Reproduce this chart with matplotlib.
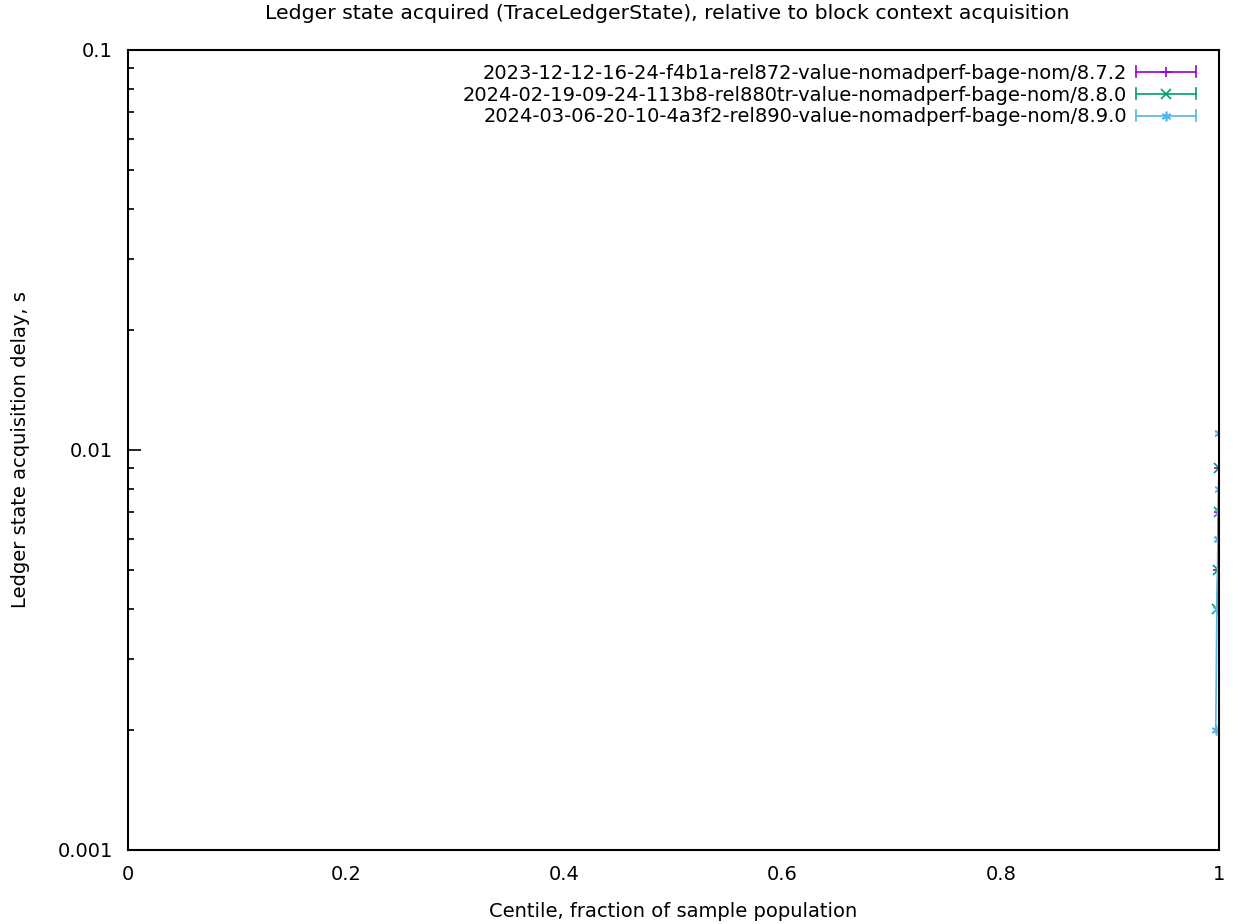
import matplotlib
matplotlib.use("Agg")
import matplotlib.pyplot as plt
from matplotlib.legend_handler import HandlerBase
from matplotlib.lines import Line2D
from matplotlib.ticker import FixedLocator, LogLocator, NullFormatter

# centile -> delay (s); zero-valued centiles are not drawable on a log axis
labels = [
    "2023-12-12-16-24-f4b1a-rel872-value-nomadperf-bage-nom/8.7.2",
    "2024-02-19-09-24-113b8-rel880tr-value-nomadperf-bage-nom/8.8.0",
    "2024-03-06-20-10-4a3f2-rel890-value-nomadperf-bage-nom/8.9.0",
]
x_872 = [0.999, 0.9995, 0.9999]
y_872 = [0.005, 0.007, 0.009]
x_880 = [0.998, 0.999, 0.9995, 0.9999]
y_880 = [0.004, 0.005, 0.007, 0.009]
x_890 = [0.997, 0.998, 0.999, 0.9995, 0.9997, 0.9998, 0.9999, 1.0]
y_890 = [0.002, 0.004, 0.006, 0.006, 0.007, 0.008, 0.011, 0.011]

colors = ["#9400d3", "#009e73", "#56b4e9"]
markers = ["+", "x", (6, 2, 0)]
FS = 14


class ErrLineHandler(HandlerBase):
    # gnuplot-like key sample: line with end caps and the point symbol in the middle
    def __init__(self, color, marker):
        super().__init__()
        self.color = color
        self.marker = marker

    def create_artists(self, legend, orig_handle, xdescent, ydescent,
                       width, height, fontsize, trans):
        y = height / 2 - ydescent
        x0, x1 = -xdescent, -xdescent + width
        arts = [Line2D([x0, x1], [y, y], color=self.color, lw=1.2)]
        for xc in (x0, x1):
            arts.append(Line2D([xc, xc], [y - 4, y + 4], color=self.color, lw=1.2))
        arts.append(Line2D([(x0 + x1) / 2], [y], marker=self.marker, color=self.color,
                           ms=7, mew=1.2, linestyle="none"))
        for a in arts:
            a.set_transform(trans)
        return arts


fig = plt.figure(figsize=(12.39, 9.24), dpi=100)
ax = fig.add_axes([0.1033, 0.0801, 0.8806, 0.8658])

handles = []
for xs, ys, c, m in zip([x_872, x_880, x_890], [y_872, y_880, y_890], colors, markers):
    ax.errorbar(xs, ys, yerr=0, color=c, lw=1.2, marker=m, ms=7, mew=1.2,
                capsize=0, elinewidth=1.2)
    handles.append(Line2D([], [], color=c))

ax.set_yscale("log")
ax.set_xlim(0, 1)
ax.set_ylim(0.001, 0.1)
ax.xaxis.set_major_locator(FixedLocator([0, 0.2, 0.4, 0.6, 0.8, 1.0]))
ax.set_xticklabels(["0", "0.2", "0.4", "0.6", "0.8", "1"])
ax.yaxis.set_major_locator(FixedLocator([0.001, 0.01, 0.1]))
ax.set_yticklabels(["0.001", "0.01", "0.1"])
ax.yaxis.set_minor_locator(LogLocator(base=10, subs=range(2, 10)))
ax.yaxis.set_minor_formatter(NullFormatter())

ax.tick_params(axis="x", which="both", length=0, labelsize=FS, pad=11, colors="black")
ax.tick_params(axis="y", which="major", direction="in", length=9, width=1.2,
               labelsize=FS, pad=11, right=False)
ax.tick_params(axis="y", which="minor", direction="in", length=4.5, width=1.2, right=False)
for s in ax.spines.values():
    s.set_linewidth(1.5)

ax.set_title("Ledger state acquired (TraceLedgerState), relative to block context acquisition",
             fontsize=14.7, pad=22, x=0.494)
ax.set_xlabel("Centile, fraction of sample population", fontsize=FS, labelpad=13)
ax.set_ylabel("Ledger state acquisition delay, s", fontsize=FS, labelpad=20)

handler_map = {h: ErrLineHandler(c, m) for h, c, m in zip(handles, colors, markers)}
ax.legend(handles, labels, loc="upper right", markerfirst=False, frameon=False,
          fontsize=FS, handlelength=3.1, handletextpad=0.45, labelspacing=0.15,
          borderaxespad=0.3, bbox_to_anchor=(0.9915, 1.0), handler_map=handler_map)

fig.savefig("out.png", dpi=100)
